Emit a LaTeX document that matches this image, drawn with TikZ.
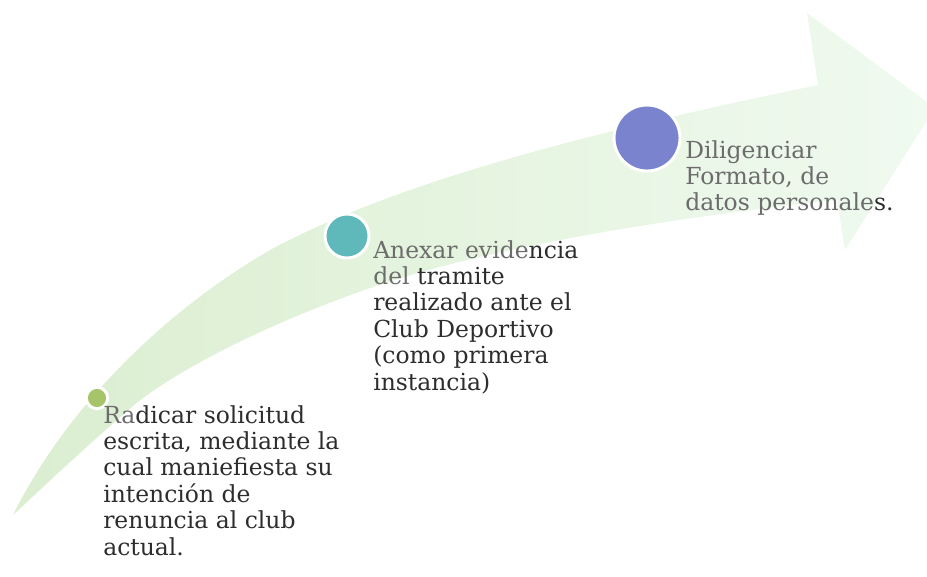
\documentclass[tikz,border=0pt]{standalone}
\usepackage{fontspec}
\setmainfont{DejaVu Serif}
\definecolor{flechaA}{RGB}{219,238,208}
\definecolor{flechaM}{RGB}{232,246,230}
\definecolor{flechaB}{RGB}{240,250,240}
\definecolor{verde}{RGB}{166,196,106}
\definecolor{turquesa}{RGB}{95,184,186}
\definecolor{azul}{RGB}{122,132,206}
\definecolor{texto}{RGB}{45,45,45}
\definecolor{textoclaro}{RGB}{108,108,108}
\tikzset{
	punto/.style = {circle, fill = #1, draw = white, line width = 2.2pt, inner sep = 0pt},
	paso/.style = {anchor = north west, inner sep = 0pt, align = left, text = texto, font = \fontsize{17.6}{19.8}\selectfont}
}
\begin{document}
\begin{tikzpicture}[x = 0.75pt, y = -0.75pt]
	\useasboundingbox (0, 0) rectangle (927, 576);
	\begin{scope}
		\clip (0, 0) rectangle (927, 576);
		\shade[left color = flechaA, middle color = flechaM, right color = flechaB]
			(13, 515) .. controls (60, 420) and (150, 320) .. (270, 250) .. controls (400, 180) and (600, 130) .. (818, 85)
			-- (807, 13) -- (935, 108) -- (845, 250) -- (837, 200)
			.. controls (650, 220) and (480, 250) .. (370, 288) .. controls (250, 330) and (160, 380) .. (125, 413)
			.. controls (80, 452) and (40, 490) .. cycle;
	\end{scope}
	\node[punto = verde, minimum size = 16pt] (p1) at (97, 398) {};
	\node[punto = turquesa, minimum size = 33pt] (p2) at (347, 236) {};
	\node[punto = azul, minimum size = 49.5pt] (p3) at (647, 138) {};
	\node[paso] (t1) at (103, 405) {{\color{textoclaro}Ra}dicar solicitud\\escrita, mediante la\\cual maniefiesta su\\intención de\\renuncia al club\\actual.};
	\node[paso] (t2) at (373, 240) {{\color{textoclaro}Anexar evide}ncia\\{\color{textoclaro}del} tramite\\realizado ante el\\Club Deportivo\\(como primera\\instancia)};
	\node[paso, text = textoclaro] (t3) at (685, 140) {Diligenciar\\Formato, de\\datos personale{\color{texto}s.}};
\end{tikzpicture}
\end{document}
